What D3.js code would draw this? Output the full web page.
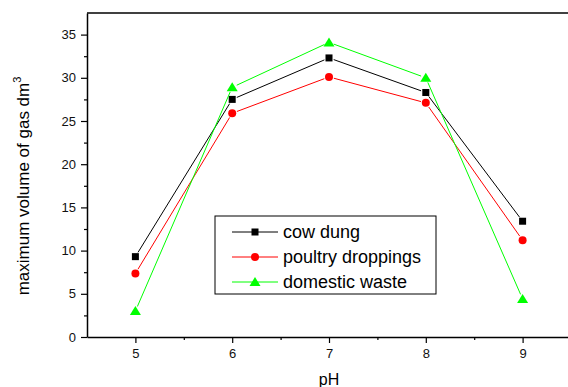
<!DOCTYPE html>
<html>
<head>
<meta charset="utf-8">
<script src="https://cdn.jsdelivr.net/npm/d3@7/dist/d3.min.js"></script>
<style>
  body { margin: 0; background: #fff; }
  svg { display: block; font-family: "Liberation Sans", Arial, sans-serif; }
</style>
</head>
<body>
<div id="chart"></div>
<script>
// data
const phValues = [5, 6, 7, 8, 9];
const cowDung = [9.3, 27.5, 32.3, 28.3, 13.4];
const poultryDroppings = [7.35, 25.9, 30.1, 27.1, 11.2];
const domesticWaste = [3.0, 28.9, 34.1, 30.0, 4.4];
const yTicks = [0, 5, 10, 15, 20, 25, 30, 35];
const seriesNames = ["cow dung", "poultry droppings", "domestic waste"];

const series = [
  { name: seriesNames[0], values: cowDung, color: "#000000", shape: "square" },
  { name: seriesNames[1], values: poultryDroppings, color: "#ff0000", shape: "circle" },
  { name: seriesNames[2], values: domesticWaste, color: "#00ff00", shape: "triangle" }
];

const width = 568, height = 387;
const margin = { top: 13, right: -3, bottom: 50, left: 87 };
const innerW = width - margin.left - margin.right;
const innerH = height - margin.top - margin.bottom;

const svg = d3.select("#chart").append("svg")
  .attr("width", width)
  .attr("height", height);

const g = svg.append("g")
  .attr("transform", "translate(" + margin.left + "," + margin.top + ")");

const x = d3.scaleLinear().domain([4.5, 9.5]).range([0, innerW]);
const y = d3.scaleLinear().domain([0, 37.5]).range([innerH, 0]);

// frame (top line)
g.append("line")
  .attr("x1", 0).attr("x2", innerW)
  .attr("y1", 0).attr("y2", 0)
  .attr("stroke", "#000").attr("stroke-width", 1.5);

// axes
g.append("g")
  .attr("transform", "translate(0," + innerH + ")")
  .call(d3.axisBottom(x).tickValues(phValues).tickSize(6).tickSizeOuter(0).tickPadding(6).tickFormat(d3.format("d")));
g.append("g")
  .attr("transform", "translate(0," + innerH + ")")
  .call(d3.axisBottom(x).tickValues([5.5, 6.5, 7.5, 8.5]).tickSize(3).tickSizeOuter(0).tickFormat(""))
  .select(".domain").remove();

g.append("g")
  .call(d3.axisLeft(y).tickValues(yTicks).tickSize(6).tickSizeOuter(0).tickPadding(5));
g.append("g")
  .call(d3.axisLeft(y).tickValues([2.5, 7.5, 12.5, 17.5, 22.5, 27.5, 32.5]).tickSize(3).tickSizeOuter(0).tickFormat(""))
  .select(".domain").remove();

g.selectAll(".domain").attr("stroke-width", 1.5);
g.selectAll(".tick line").attr("stroke-width", 1.2);
g.selectAll(".tick text").attr("font-size", 13).attr("fill", "#111")
  .attr("font-family", "Liberation Sans, Arial, sans-serif");

// axis labels
svg.append("text")
  .attr("x", margin.left + x(7))
  .attr("y", 385)
  .attr("text-anchor", "middle")
  .attr("font-size", 16)
  .text("pH");

const yl = svg.append("text")
  .attr("transform", "translate(29,186) rotate(-90)")
  .attr("text-anchor", "middle")
  .attr("font-size", 17);
yl.append("tspan").text("maximum volume of gas dm");
yl.append("tspan").attr("dy", -8).attr("font-size", 11).text("3");

// lines with small gaps near the markers
const gap = 5;
function drawSegments(sel, s) {
  for (let i = 0; i < phValues.length - 1; i++) {
    const x1 = x(phValues[i]), y1 = y(s.values[i]);
    const x2 = x(phValues[i + 1]), y2 = y(s.values[i + 1]);
    const len = Math.hypot(x2 - x1, y2 - y1);
    const ux = (x2 - x1) / len, uy = (y2 - y1) / len;
    sel.append("line")
      .attr("x1", x1 + ux * gap).attr("y1", y1 + uy * gap)
      .attr("x2", x2 - ux * gap).attr("y2", y2 - uy * gap)
      .attr("stroke", s.color).attr("stroke-width", 1);
  }
}

function marker(sel, shape, color, cx, cy) {
  if (shape == "square") {
    sel.append("rect").attr("x", cx - 3.5).attr("y", cy - 3.5)
      .attr("width", 7).attr("height", 7).attr("fill", color);
  } else if (shape == "circle") {
    sel.append("circle").attr("cx", cx).attr("cy", cy).attr("r", 4).attr("fill", color);
  } else {
    sel.append("path")
      .attr("d", "M" + cx + "," + (cy - 5) + "L" + (cx + 5.5) + "," + (cy + 4) + "L" + (cx - 5.5) + "," + (cy + 4) + "Z")
      .attr("fill", color);
  }
}

series.forEach(s => {
  const sg = g.append("g");
  drawSegments(sg, s);
  s.values.forEach((v, i) => marker(sg, s.shape, s.color, x(phValues[i]), y(v)));
});

// legend
const legend = svg.append("g").attr("transform", "translate(215,216)");
legend.append("rect")
  .attr("width", 221).attr("height", 78)
  .attr("fill", "#fff").attr("stroke", "#000").attr("stroke-width", 1);
series.forEach((s, i) => {
  const ly = 16 + i * 25;
  legend.append("line").attr("x1", 17).attr("x2", 63).attr("y1", ly).attr("y2", ly)
    .attr("stroke", s.color).attr("stroke-width", 1);
  marker(legend, s.shape, s.color, 40, ly);
  legend.append("text")
    .attr("x", 68).attr("y", ly + 6)
    .attr("font-size", 18)
    .text(s.name);
});
</script>
</body>
</html>
